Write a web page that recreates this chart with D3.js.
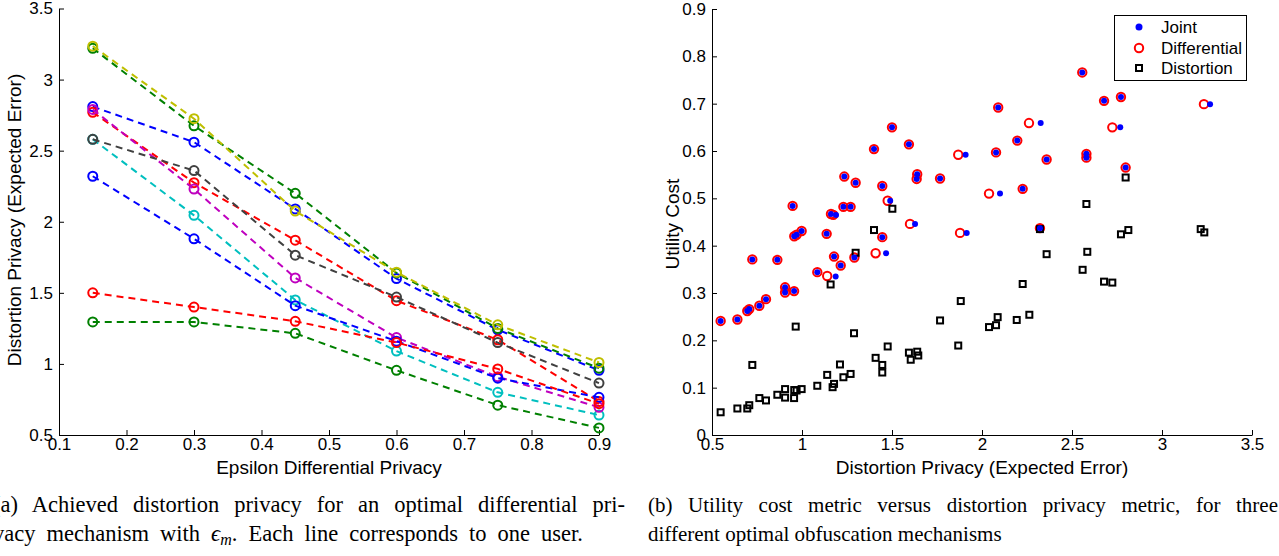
<!DOCTYPE html>
<html>
<head>
<meta charset="utf-8">
<script src="https://cdn.jsdelivr.net/npm/d3@7"></script>
<style>
  html, body { margin: 0; padding: 0; background: #fff; }
  svg { display: block; }
  .tick text { font-family: "Liberation Sans", Arial, sans-serif; font-size: 17px; fill: #000; }
  .lbl { font-family: "Liberation Sans", Arial, sans-serif; font-size: 19px; fill: #000; }
  .cap { font-family: "Liberation Serif", "Times New Roman", serif; font-size: 21px; fill: #000; }
  .capA { font-size: 22.5px; }
</style>
</head>
<body>
<svg id="chart" width="1279" height="556"></svg>
<script>
// ---------- Data: panel (a) ----------
const epsilon = [0.15, 0.3, 0.45, 0.6, 0.75, 0.9];
const user1  = [2.81, 2.56, 2.09, 1.60, 1.24, 0.955];
const user2  = [3.22, 2.675, 2.20, 1.64, 1.25, 0.97];
const user3  = [2.77, 2.275, 1.87, 1.445, 1.17, 0.735];
const user4  = [2.58, 2.045, 1.45, 1.09, 0.80, 0.64];
const user5  = [2.79, 2.23, 1.605, 1.185, 0.91, 0.695];
const user6  = [3.235, 2.725, 2.075, 1.645, 1.275, 1.01];
const user7  = [2.58, 2.36, 1.765, 1.47, 1.15, 0.865];
const user8  = [2.32, 1.88, 1.41, 1.16, 0.90, 0.765];
const user9  = [1.295, 1.295, 1.215, 0.955, 0.71, 0.55];
const user10 = [1.50, 1.40, 1.30, 1.15, 0.965, 0.72];
const users = [user1, user2, user3, user4, user5, user6, user7, user8, user9, user10];
const xTicksA = [0.1, 0.2, 0.3, 0.4, 0.5, 0.6, 0.7, 0.8, 0.9];
const yTicksA = [0.5, 1, 1.5, 2, 2.5, 3, 3.5];

// ---------- Data: panel (b) ----------
const diffX = [0.548,0.641,0.696,0.707,0.763,0.800,0.724,0.863,0.906,0.906,0.956,0.948,0.957,0.970,0.998,
  1.085,1.140,1.137,1.178,1.215,1.291,1.409,1.446,1.161,1.174,1.230,1.270,1.235,1.298,1.400,1.500,1.594,
  1.446,1.476,1.640,1.637,1.767,1.868,1.600,1.878,2.078,2.039,2.090,2.557,2.678,2.772,2.261,2.196,2.724,
  3.233,2.359,2.580,2.580,2.798,2.226,2.322];
const diffY = [0.241,0.244,0.262,0.266,0.273,0.287,0.371,0.370,0.312,0.301,0.304,0.484,0.420,0.423,0.431,
  0.344,0.336,0.425,0.377,0.358,0.375,0.384,0.418,0.467,0.465,0.482,0.482,0.546,0.533,0.604,0.650,0.614,
  0.526,0.495,0.551,0.541,0.542,0.592,0.446,0.427,0.597,0.510,0.692,0.766,0.706,0.714,0.659,0.622,0.650,
  0.699,0.582,0.594,0.586,0.565,0.520,0.437];
const jointX = [0.548,0.641,0.696,0.707,0.763,0.800,0.724,0.863,0.906,0.906,0.956,0.948,0.957,0.970,0.998,
  1.085,1.187,1.137,1.178,1.215,1.291,1.467,1.446,1.161,1.189,1.230,1.270,1.235,1.298,1.400,1.500,1.594,
  1.446,1.490,1.640,1.637,1.767,1.909,1.628,1.915,2.078,2.100,2.090,2.557,2.678,2.772,2.326,2.196,2.768,
  3.267,2.359,2.580,2.580,2.798,2.226,2.322];
const jointY = [0.241,0.244,0.262,0.266,0.273,0.287,0.371,0.370,0.312,0.301,0.304,0.484,0.420,0.423,0.431,
  0.344,0.335,0.425,0.377,0.358,0.375,0.384,0.418,0.467,0.465,0.482,0.482,0.546,0.533,0.604,0.650,0.614,
  0.526,0.495,0.551,0.541,0.542,0.592,0.446,0.427,0.597,0.510,0.692,0.766,0.706,0.714,0.659,0.622,0.650,
  0.699,0.582,0.594,0.586,0.565,0.520,0.437];
const distX = [0.548,0.641,0.696,0.707,0.763,0.800,0.724,0.863,0.906,0.906,0.956,0.957,0.970,0.998,0.965,
  1.085,1.140,1.170,1.178,1.159,1.211,1.230,1.270,1.289,1.298,1.400,1.502,1.409,1.446,1.446,1.476,1.594,
  1.604,1.640,1.646,1.767,1.868,1.882,2.039,2.078,2.087,2.193,2.263,2.226,2.359,2.322,2.580,2.585,2.559,
  2.678,2.724,2.772,2.813,3.215,3.235,2.798];
const distY = [0.048,0.056,0.056,0.063,0.078,0.073,0.148,0.085,0.097,0.079,0.078,0.095,0.094,0.097,0.229,
  0.104,0.127,0.101,0.108,0.318,0.149,0.122,0.129,0.215,0.385,0.433,0.478,0.163,0.148,0.132,0.187,0.174,
  0.159,0.176,0.168,0.242,0.189,0.283,0.228,0.232,0.249,0.243,0.254,0.319,0.382,0.435,0.488,0.387,0.349,
  0.324,0.322,0.424,0.433,0.435,0.428,0.544];
const xTicksB = [0.5, 1, 1.5, 2, 2.5, 3, 3.5];
const yTicksB = [0, 0.1, 0.2, 0.3, 0.4, 0.5, 0.6, 0.7, 0.8, 0.9];
const legendLabels = ["Joint", "Differential", "Distortion"];

// ---------- Styles ----------
const lineColors = ["#0000FF", "#008000", "#FF0000", "#00BFBF", "#BF00BF", "#BFBF00", "#404040", "#0000FF", "#008000", "#FF0000"];

const svg = d3.select("#chart");
const fmt = d => String(d);

// ---------- Panel (a) ----------
const xA = d3.scaleLinear().domain([0.1, 0.9]).range([59, 599]);
const yA = d3.scaleLinear().domain([0.5, 3.5]).range([435, 8.5]);

function styleAxis(g) {
  g.select(".domain").attr("stroke", "#000").attr("stroke-width", 1);
  g.selectAll(".tick line").attr("stroke", "#000");
  g.selectAll("text").attr("font-family", null).attr("font-size", null);
}

svg.append("g").attr("transform", "translate(0,435)")
  .call(d3.axisBottom(xA).tickValues(xTicksA).tickFormat(fmt).tickSizeInner(-5).tickSizeOuter(0).tickPadding(3))
  .call(styleAxis);
svg.append("g").attr("transform", "translate(59,0)")
  .call(d3.axisLeft(yA).tickValues(yTicksA).tickFormat(fmt).tickSizeInner(-5).tickSizeOuter(0).tickPadding(6))
  .call(styleAxis);

const line = d3.line().x((d, i) => xA(epsilon[i])).y(d => yA(d));
users.forEach((u, k) => {
  const g = svg.append("g");
  g.append("path").datum(u).attr("d", line).attr("fill", "none")
    .attr("stroke", lineColors[k]).attr("stroke-width", 2).attr("stroke-dasharray", "7,5");
  g.selectAll("circle").data(u).join("circle")
    .attr("cx", (d, i) => xA(epsilon[i])).attr("cy", d => yA(d)).attr("r", 4.5)
    .attr("fill", "none").attr("stroke", lineColors[k]).attr("stroke-width", 2);
});

svg.append("text").attr("class", "lbl").attr("text-anchor", "middle")
  .attr("x", 329).attr("y", 474).text("Epsilon Differential Privacy");
svg.append("text").attr("class", "lbl").attr("text-anchor", "middle")
  .attr("transform", "translate(21,220) rotate(-90)").text("Distortion Privacy (Expected Error)");

// ---------- Panel (b) ----------
const xB = d3.scaleLinear().domain([0.5, 3.5]).range([712, 1252]);
const yB = d3.scaleLinear().domain([0, 0.9]).range([435, 9]);

svg.append("g").attr("transform", "translate(0,435)")
  .call(d3.axisBottom(xB).tickValues(xTicksB).tickFormat(fmt).tickSizeInner(-5).tickSizeOuter(0).tickPadding(3))
  .call(styleAxis);
svg.append("g").attr("transform", "translate(712,0)")
  .call(d3.axisLeft(yB).tickValues(yTicksB).tickFormat(fmt).tickSizeInner(-5).tickSizeOuter(0).tickPadding(6))
  .call(styleAxis);

svg.append("g").selectAll("circle").data(diffX).join("circle")
  .attr("cx", d => xB(d)).attr("cy", (d, i) => yB(diffY[i])).attr("r", 4.2)
  .attr("fill", "none").attr("stroke", "#FF0000").attr("stroke-width", 2);
svg.append("g").selectAll("rect").data(distX).join("rect")
  .attr("x", d => xB(d) - 3).attr("y", (d, i) => yB(distY[i]) - 3).attr("width", 6).attr("height", 6)
  .attr("fill", "none").attr("stroke", "#000").attr("stroke-width", 2);
svg.append("g").selectAll("circle").data(jointX).join("circle")
  .attr("cx", d => xB(d)).attr("cy", (d, i) => yB(jointY[i])).attr("r", 3)
  .attr("fill", "#0000FF");

svg.append("text").attr("class", "lbl").attr("text-anchor", "middle")
  .attr("x", 982).attr("y", 474).text("Distortion Privacy (Expected Error)");
svg.append("text").attr("class", "lbl").attr("text-anchor", "middle")
  .attr("transform", "translate(679,224) rotate(-90)").text("Utility Cost");

// Legend
const lg = svg.append("g");
lg.append("rect").attr("x", 1114.5).attr("y", 15.5).attr("width", 132).attr("height", 65)
  .attr("fill", "#fff").attr("stroke", "#000").attr("stroke-width", 1);
const rowsY = [27, 48, 68];
lg.append("circle").attr("cx", 1139).attr("cy", rowsY[0]).attr("r", 3.5).attr("fill", "#0000FF");
lg.append("circle").attr("cx", 1139).attr("cy", rowsY[1]).attr("r", 4.2).attr("fill", "none").attr("stroke", "#FF0000").attr("stroke-width", 2);
lg.append("rect").attr("x", 1136).attr("y", rowsY[2] - 3).attr("width", 6).attr("height", 6).attr("fill", "none").attr("stroke", "#000").attr("stroke-width", 2);
legendLabels.forEach((t, i) => {
  lg.append("text").attr("class", "lbl").style("font-size", "17px").attr("x", 1161).attr("y", rowsY[i] + 6).text(t);
});

// ---------- Captions (justified through word spacing) ----------
function fitWords(sel, target, text) {
  const node = sel.node();
  const w = node.getComputedTextLength();
  const spaces = (text.match(/ /g) || []).length;
  if (spaces > 0 && w < target) sel.style("word-spacing", ((target - w) / spaces) + "px");
}
const capA1Text = "(a) Achieved distortion privacy for an optimal differential pri-";
const capA1 = svg.append("text").attr("class", "cap capA").attr("x", -7).attr("y", 512).text(capA1Text);
fitWords(capA1, 632, capA1Text);

const capA2 = svg.append("text").attr("class", "cap capA").attr("x", -7).attr("y", 541);
capA2.append("tspan").text("vacy mechanism with ");
capA2.append("tspan").style("font-style", "italic").text("ϵ");
capA2.append("tspan").style("font-style", "italic").style("font-size", "16px").attr("dy", 4).text("m");
capA2.append("tspan").attr("dy", -4).text(". Each line corresponds to one user.");
fitWords(capA2, 590, "vacy mechanism with em. Each line corresponds to one user.");

const capB1Text = "(b) Utility cost metric versus distortion privacy metric, for three";
const capB1 = svg.append("text").attr("class", "cap").attr("x", 648).attr("y", 512).text(capB1Text);
fitWords(capB1, 630, capB1Text);
svg.append("text").attr("class", "cap").attr("x", 648).attr("y", 541)
  .text("different optimal obfuscation mechanisms");
</script>
</body>
</html>
